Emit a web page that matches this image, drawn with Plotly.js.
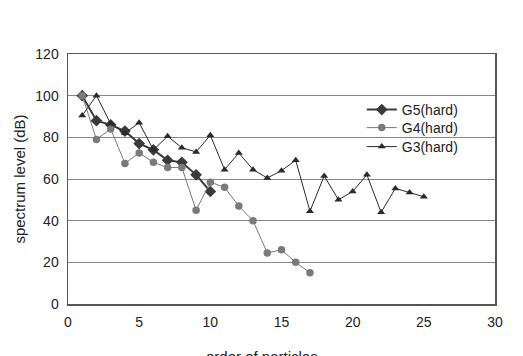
<!DOCTYPE html>
<html>
<head>
<meta charset="utf-8">
<script src="https://cdn.plot.ly/plotly-3.0.1.min.js"></script>
<style>html,body{margin:0;padding:0;background:#fff;}#chart{width:523px;height:356px;}</style>
</head>
<body>
<div id="chart"></div>
<script>
var g5X = [1,2,3,4,5,6,7,8,9,10];
var g5Y = [100,88,86,83,77,74,69,68,62,54];
var g4X = [1,2,3,4,5,6,7,8,9,10,11,12,13,14,15,16,17];
var g4Y = [100,79,84,67.5,72.5,68,65.5,65.5,45,58.5,56,47,40,24.5,26,20,15];
var g3X = [1,2,3,4,5,6,7,8,9,10,11,12,13,14,15,16,17,18,19,20,21,22,23,24,25];
var g3Y = [90.5,100,86.5,82,87,74,80.5,75,73,81,64.5,72.5,64.5,60.5,64,69,44.5,61.5,50,54,62,44,55.5,53.5,51.5];
var seriesNames = ["G5(hard)", "G4(hard)", "G3(hard)"];
var xTicks = [0,5,10,15,20,25,30];
var yTicks = [0,20,40,60,80,100,120];

var font = "Liberation Sans, Arial, sans-serif";
var traces = [
  {x: g5X, y: g5Y, name: seriesNames[0], mode: "lines+markers", type: "scatter", legend: "legend",
   line: {color: "#3a3a3a", width: 2}, marker: {symbol: "diamond", size: 9, color: "#3a3a3a"}},
  {x: g4X, y: g4Y, name: seriesNames[1], mode: "lines+markers", type: "scatter", legend: "legend2",
   line: {color: "#7a7a7a", width: 1}, marker: {symbol: "circle", size: 7.5, color: "#7a7a7a"}},
  {x: g3X, y: g3Y, name: seriesNames[2], mode: "lines+markers", type: "scatter", legend: "legend3",
   line: {color: "#2a2a2a", width: 1}, marker: {symbol: "triangle-up", size: 7, color: "#2a2a2a"}}
];
function leg(y) {
  return {x: 0.688, y: y, xanchor: "left", yanchor: "middle", bgcolor: "rgba(0,0,0,0)",
          borderwidth: 0, font: {family: font, size: 14, color: "#222"}, itemwidth: 30};
}
var layout = {
  width: 523, height: 356,
  margin: {l: 68, r: 28, t: 54, b: 52},
  paper_bgcolor: "#fff", plot_bgcolor: "#fff",
  font: {family: font, size: 14, color: "#222"},
  showlegend: true,
  legend: leg(0.776),
  legend2: leg(0.704),
  legend3: leg(0.628),
  shapes: [{type: "rect", xref: "paper", yref: "paper", x0: 0.703, x1: 0.923, y0: 0.584, y1: 0.812,
            fillcolor: "#fff", line: {width: 0}, layer: "between"}],
  annotations: [{text: "order of particles", xref: "paper", yref: "paper", x: 0.454, y: -0.166,
                 xanchor: "center", yanchor: "top", showarrow: false,
                 font: {family: font, size: 15, color: "#222"}}],
  xaxis: {range: [0, 30], tickvals: xTicks, ticktext: xTicks.map(String),
          showgrid: false, zeroline: false, showline: true, mirror: true,
          linecolor: "#555", linewidth: 1.5, ticks: "outside", ticklen: 5, tickcolor: "rgba(0,0,0,0)",
          tickfont: {family: font, size: 14, color: "#222"}},
  xaxis2: {range: [0, 30], tickvals: xTicks, overlaying: "x", anchor: "y", side: "bottom",
           showgrid: false, zeroline: false, showline: false, showticklabels: false,
           ticks: "inside", ticklen: 5, tickcolor: "#555"},
  yaxis: {range: [0, 120], tickvals: yTicks, ticktext: yTicks.map(String),
          showgrid: true, gridcolor: "#888", gridwidth: 1, zeroline: false,
          showline: true, mirror: true, linecolor: "#555", linewidth: 1.5,
          ticks: "outside", ticklen: 5, tickcolor: "rgba(0,0,0,0)",
          tickfont: {family: font, size: 14, color: "#222"},
          title: {text: "spectrum level (dB)", font: {family: font, size: 15, color: "#222"}, standoff: 6}}
};
Plotly.newPlot("chart", traces, layout, {displayModeBar: false, staticPlot: true});
</script>
</body>
</html>
